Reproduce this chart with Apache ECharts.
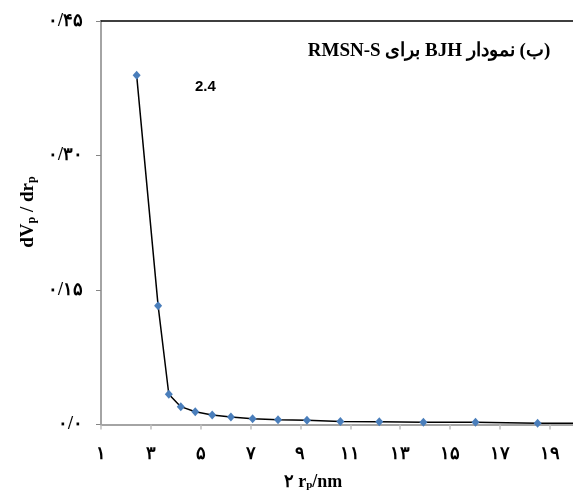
<!DOCTYPE html>
<html>
<head>
<meta charset="utf-8">
<script src="https://cdn.jsdelivr.net/npm/echarts@6/dist/echarts.min.js"></script>
<style>
html,body{margin:0;padding:0;background:#fff;}
#c{width:573px;height:490px;}
</style>
</head>
<body>
<div id="c"></div>
<script>
// Data
const poreRadius = [2.43, 3.29, 3.72, 4.20, 4.78, 5.46, 6.21, 7.08, 8.10, 9.26, 10.60, 12.16, 13.93, 16.02, 18.51, 21.5];
const dvdr = [0.3894, 0.1325, 0.0337, 0.0199, 0.0143, 0.0106, 0.0084, 0.0065, 0.0054, 0.0047, 0.0033, 0.0031, 0.0025, 0.0025, 0.0015, 0.0010];
const xTickLabels = ['۱', '۳', '۵', '۷', '۹', '۱۱', '۱۳', '۱۵', '۱۷', '۱۹'];
const yTickLabels = ['۰/۰', '۰/۱۵', '۰/۳۰', '۰/۴۵'];
const titleText = '\u202B(ب) نمودار BJH برای RMSN-S\u202C';
const annotationText = '2.4';

const chart = echarts.init(document.getElementById('c'), null, {renderer: 'canvas'});
const axisGray = '#868686';
const serif = '"Liberation Serif", "Times New Roman", serif';
const xMax = 19.93;

const option = {
  animation: false,
  backgroundColor: '#ffffff',
  grid: {left: 101, top: 21, right: 0, bottom: 65.5, containLabel: false, outerBoundsMode: 'none'},
  title: {
    text: titleText,
    left: 424, top: 37, textAlign: 'center',
    textStyle: {fontFamily: serif, fontWeight: 'bold', fontSize: 19, color: '#000'}
  },
  xAxis: [{
    type: 'value', min: 1, max: xMax, interval: 2,
    axisLine: {show: true, lineStyle: {color: axisGray, width: 1.5}},
    axisTick: {show: true, length: 5, lineStyle: {color: '#bfbfbf', width: 1.5}},
    splitLine: {show: false},
    axisLabel: {
      margin: 21, color: '#000', fontSize: 18, fontWeight: 'bold', fontFamily: serif,
      showMaxLabel: false,
      formatter: function (v) {
        const k = (v - 1) / 2;
        return Math.abs(k - Math.round(k)) < 1e-6 ? (xTickLabels[Math.round(k)] || '') : '';
      }
    }
  }, {
    type: 'value', position: 'top', min: 1, max: xMax,
    axisLine: {show: true, onZero: false, lineStyle: {color: '#000', width: 1.5}},
    axisTick: {show: false}, axisLabel: {show: false}, splitLine: {show: false}
  }],
  yAxis: {
    type: 'value', min: 0, max: 0.45, interval: 0.15,
    axisLine: {show: true, lineStyle: {color: axisGray, width: 1.5}},
    axisTick: {show: true, length: 5, lineStyle: {color: axisGray, width: 1}},
    splitLine: {show: false},
    axisLabel: {
      margin: 18, color: '#000', fontSize: 18, fontWeight: 'bold', fontFamily: serif,
      formatter: function (v) { return yTickLabels[Math.round(v / 0.15)] || ''; }
    }
  },
  series: [{
    type: 'line',
    data: poreRadius.map((x, i) => [x, dvdr[i]]),
    symbol: 'diamond', symbolSize: [8, 9],
    itemStyle: {color: '#4a7ebb'},
    lineStyle: {color: '#000', width: 1.5},
    clip: true,
    z: 3
  }],
  graphic: [
    {
      type: 'text', left: 195, top: 79,
      style: {text: annotationText, fontFamily: '"Liberation Sans", Arial, sans-serif', fontWeight: 'bold', fontSize: 15, fill: '#000'}
    },
    {
      type: 'text', x: 313, y: 480,
      style: {
        text: '{a|۲ r}{b|p}{a|/nm}',
        align: 'center', verticalAlign: 'middle',
        rich: {
          a: {fontFamily: serif, fontWeight: 'bold', fontSize: 18, lineHeight: 22, verticalAlign: 'bottom', fill: '#000'},
          b: {fontFamily: serif, fontWeight: 'bold', fontSize: 11, lineHeight: 12, verticalAlign: 'bottom', fill: '#000'}
        }
      }
    },
    {
      type: 'text', x: 27, y: 212, rotation: Math.PI / 2,
      style: {
        text: '{a|dV}{b|p}{a| / dr}{b|p}',
        align: 'center', verticalAlign: 'middle',
        rich: {
          a: {fontFamily: serif, fontWeight: 'bold', fontSize: 19, lineHeight: 22, verticalAlign: 'bottom', fill: '#000'},
          b: {fontFamily: serif, fontWeight: 'bold', fontSize: 12, lineHeight: 12, verticalAlign: 'bottom', fill: '#000'}
        }
      }
    }
  ]
};
chart.setOption(option);
</script>
</body>
</html>
